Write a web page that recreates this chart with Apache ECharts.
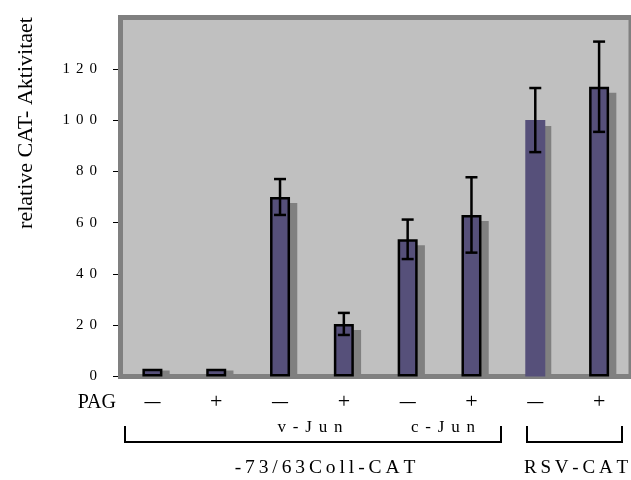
<!DOCTYPE html>
<html>
<head>
<meta charset="utf-8">
<script src="https://cdn.jsdelivr.net/npm/echarts@6/dist/echarts.min.js"></script>
<style>html,body{margin:0;padding:0;background:#fff}#c{width:631px;height:480px}</style>
</head>
<body>
<div id="c"></div>
<script>
const categories = ['ctrl −', 'ctrl +', 'v-Jun −', 'v-Jun +', 'c-Jun −', 'c-Jun +', 'RSV −', 'RSV +'];
const pagLabels = ['−', '+', '−', '+', '−', '+', '−', '+'];
const values = [3, 3, 70, 20.5, 53.5, 63, 100, 113];
const errors = [0, 0, 7, 4.3, 7.7, 14.7, 12.5, 17.6];
const bordered = [true, true, true, true, true, true, false, true];
const yTicks = [0, 20, 40, 60, 80, 100, 120];
const yName = 'relative CAT- Aktivitaet';

const SERIF = '"Liberation Serif", "Times New Roman", serif';
const spaced = (s, sep) => String(s).split('').join(sep);

const BAR_W = 20;
const chart = echarts.init(document.getElementById('c'), null, {renderer: 'canvas'});
chart.setOption({
  animation: false,
  backgroundColor: '#ffffff',
  grid: {
    left: 120.5, top: 17.5, right: -10, bottom: 103.5,
    show: true, backgroundColor: '#c0c0c0', borderColor: '#808080', borderWidth: 5,
    containLabel: false
  },
  xAxis: {
    type: 'category',
    data: categories,
    axisLine: {show: false},
    axisTick: {show: false},
    axisLabel: {
      formatter: (v, i) => pagLabels[i] === '−' ? '{m|—}' : '{p|+}',
      margin: 14,
      rich: {
        m: {fontFamily: SERIF, fontSize: 16, fontWeight: 'bold', color: '#000', lineHeight: 24},
        p: {fontFamily: SERIF, fontSize: 22, color: '#000', lineHeight: 24}
      }
    }
  },
  yAxis: {
    type: 'value',
    min: 0, max: 140, interval: 20,
    offset: 2.5,
    splitLine: {show: false},
    axisLine: {show: false},
    axisTick: {show: true, length: 5, customValues: yTicks, lineStyle: {color: '#000', width: 1}},
    axisLabel: {
      customValues: yTicks,
      formatter: v => spaced(v, '\u2009\u2009'),
      fontFamily: SERIF, fontSize: 15, color: '#000', margin: 21
    }
  },
  series: [
    {
      type: 'custom',
      z: 1,
      silent: true,
      data: values.map((v, i) => [i, v]),
      renderItem: function (params, api) {
        const i = api.value(0), v = api.value(1);
        const top = api.coord([i, v]);
        const base = api.coord([i, 0]);
        const x0 = top[0] - BAR_W / 2 + 6;
        const x1 = top[0] + BAR_W / 2 + 6 + (bordered[i] ? 1.25 : 0);
        const sTop = Math.min(top[1] + 6, base[1] - 6);
        return {type: 'rect', shape: {x: x0, y: sTop, width: x1 - x0, height: Math.max(0, base[1] - sTop)},
                style: {fill: '#808080'}};
      }
    },
    {
      type: 'bar',
      barWidth: BAR_W,
      z: 2,
      data: values.map((v, i) => ({
        value: v,
        itemStyle: {
          color: '#56507a',
          borderColor: bordered[i] ? '#000' : 'transparent',
          borderWidth: bordered[i] ? 2.5 : 0
        }
      }))
    },
    {
      type: 'custom',
      z: 5,
      silent: true,
      data: values.map((v, i) => [i, v, errors[i]]),
      renderItem: function (params, api) {
        const i = api.value(0), v = api.value(1), e = api.value(2);
        if (!e) return null;
        const top = api.coord([i, v + e]);
        const bot = api.coord([i, v - e]);
        const hw = 6;
        const st = {stroke: '#000', lineWidth: 2.5};
        return {
          type: 'group',
          children: [
            {type: 'line', shape: {x1: top[0], y1: top[1], x2: bot[0], y2: bot[1]}, style: st},
            {type: 'line', shape: {x1: top[0] - hw, y1: top[1], x2: top[0] + hw, y2: top[1]}, style: st},
            {type: 'line', shape: {x1: bot[0] - hw, y1: bot[1], x2: bot[0] + hw, y2: bot[1]}, style: st}
          ]
        };
      }
    }
  ],
  graphic: [
    {type: 'text', x: 26, y: 123, rotation: Math.PI / 2,
     style: {text: yName, font: '22px ' + SERIF, fill: '#000', align: 'center', verticalAlign: 'middle'}},
    {type: 'text', x: 116, y: 403,
     style: {text: 'PAG', font: '20px ' + SERIF, fill: '#000', align: 'right', verticalAlign: 'middle'}},
    {type: 'text', x: 310, y: 428,
     style: {text: spaced('v-Jun', '\u2009\u2009'), font: '17px ' + SERIF, fill: '#000', align: 'center', verticalAlign: 'middle'}},
    {type: 'text', x: 443, y: 428,
     style: {text: spaced('c-Jun', '\u2009\u2009'), font: '17px ' + SERIF, fill: '#000', align: 'center', verticalAlign: 'middle'}},
    {type: 'text', x: 325, y: 468,
     style: {text: spaced('-73/63Coll-CAT', '\u2009'), font: '19.5px ' + SERIF, fill: '#000', align: 'center', verticalAlign: 'middle'}},
    {type: 'text', x: 576, y: 468,
     style: {text: spaced('RSV-CAT', '\u2009'), font: '19px ' + SERIF, fill: '#000', align: 'center', verticalAlign: 'middle'}},
    {type: 'polyline', shape: {points: [[125, 426], [125, 442], [501, 442], [501, 426]]},
     style: {stroke: '#000', lineWidth: 2, fill: null}},
    {type: 'polyline', shape: {points: [[527, 426], [527, 442], [622, 442], [622, 426]]},
     style: {stroke: '#000', lineWidth: 2, fill: null}}
  ]
});
</script>
</body>
</html>
